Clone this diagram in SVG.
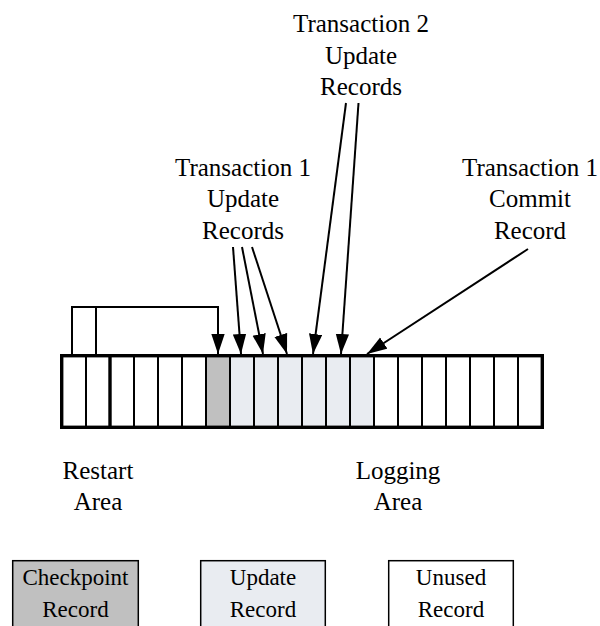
<svg xmlns="http://www.w3.org/2000/svg" width="600" height="626" viewBox="0 0 600 626">
<defs>
<marker id="ah" markerUnits="userSpaceOnUse" markerWidth="20" markerHeight="14" viewBox="0 0 18 12" refX="18" refY="6" orient="auto">
<path d="M0,0 L18,6 L0,12 Z" fill="#000"/>
</marker>
<style>
text{font-family:"Liberation Serif","Times New Roman",serif;fill:#000;text-anchor:middle}
.lbl{font-size:25px}
.leg{font-size:23px}
.cn{stroke:#000;stroke-width:2;fill:none}
.div{stroke:#000;stroke-width:2}
.box{stroke:#000;stroke-width:1.5}
</style>
</defs>

<g id="log-strip">
<rect x="206" y="356" width="24" height="71" fill="#c0c0c0"/>
<rect x="230" y="356" width="144" height="71" fill="#e9ecf1"/>
<g class="div">
<line x1="86" y1="356" x2="86" y2="428"/>
<line x1="134" y1="356" x2="134" y2="428"/>
<line x1="158" y1="356" x2="158" y2="428"/>
<line x1="182" y1="356" x2="182" y2="428"/>
<line x1="206" y1="356" x2="206" y2="428"/>
<line x1="230" y1="356" x2="230" y2="428"/>
<line x1="254" y1="356" x2="254" y2="428"/>
<line x1="278" y1="356" x2="278" y2="428"/>
<line x1="302" y1="356" x2="302" y2="428"/>
<line x1="326" y1="356" x2="326" y2="428"/>
<line x1="350" y1="356" x2="350" y2="428"/>
<line x1="374" y1="356" x2="374" y2="428"/>
<line x1="398" y1="356" x2="398" y2="428"/>
<line x1="422" y1="356" x2="422" y2="428"/>
<line x1="446" y1="356" x2="446" y2="428"/>
<line x1="470" y1="356" x2="470" y2="428"/>
<line x1="494" y1="356" x2="494" y2="428"/>
<line x1="518" y1="356" x2="518" y2="428"/>
</g>
<line x1="110" y1="356" x2="110" y2="428" stroke="#000" stroke-width="3.4"/>
<rect x="61.7" y="355.7" width="480.6" height="71.6" fill="none" stroke="#000" stroke-width="3.4"/>
</g>

<g id="connectors">
<path class="cn" d="M72,355 V307 H218 V354" marker-end="url(#ah)"/>
<path class="cn" d="M96,355 V307"/>
<line class="cn" x1="233" y1="247" x2="241" y2="354" marker-end="url(#ah)"/>
<line class="cn" x1="242" y1="247" x2="263" y2="354" marker-end="url(#ah)"/>
<line class="cn" x1="252" y1="247" x2="287" y2="354" marker-end="url(#ah)"/>
<line class="cn" x1="346" y1="103" x2="313" y2="354" marker-end="url(#ah)"/>
<line class="cn" x1="358.5" y1="103" x2="341" y2="354" marker-end="url(#ah)"/>
<line class="cn" x1="528" y1="249" x2="367" y2="354" marker-end="url(#ah)"/>
</g>

<g id="label-t2">
<text class="lbl" x="361" y="32">Transaction 2</text>
<text class="lbl" x="361" y="63.5">Update</text>
<text class="lbl" x="361" y="95">Records</text>
</g>
<g id="label-t1-update">
<text class="lbl" x="243" y="175.5">Transaction 1</text>
<text class="lbl" x="243" y="207">Update</text>
<text class="lbl" x="243" y="238.5">Records</text>
</g>
<g id="label-t1-commit">
<text class="lbl" x="530" y="175.5">Transaction 1</text>
<text class="lbl" x="530" y="207">Commit</text>
<text class="lbl" x="530" y="238.5">Record</text>
</g>
<g id="label-restart">
<text class="lbl" x="98" y="478.5">Restart</text>
<text class="lbl" x="98" y="510">Area</text>
</g>
<g id="label-logging">
<text class="lbl" x="398" y="478.5">Logging</text>
<text class="lbl" x="398" y="510">Area</text>
</g>

<g id="legend-checkpoint">
<rect class="box" x="12.7" y="560.7" width="125.6" height="70" fill="#c0c0c0"/>
<text class="leg" x="75.5" y="585">Checkpoint</text>
<text class="leg" x="75.5" y="617">Record</text>
</g>
<g id="legend-update">
<rect class="box" x="200.7" y="560.7" width="124.6" height="70" fill="#e9ecf1"/>
<text class="leg" x="263" y="585">Update</text>
<text class="leg" x="263" y="617">Record</text>
</g>
<g id="legend-unused">
<rect class="box" x="388.7" y="560.7" width="124.6" height="70" fill="#fff"/>
<text class="leg" x="451" y="585">Unused</text>
<text class="leg" x="451" y="617">Record</text>
</g>
</svg>
